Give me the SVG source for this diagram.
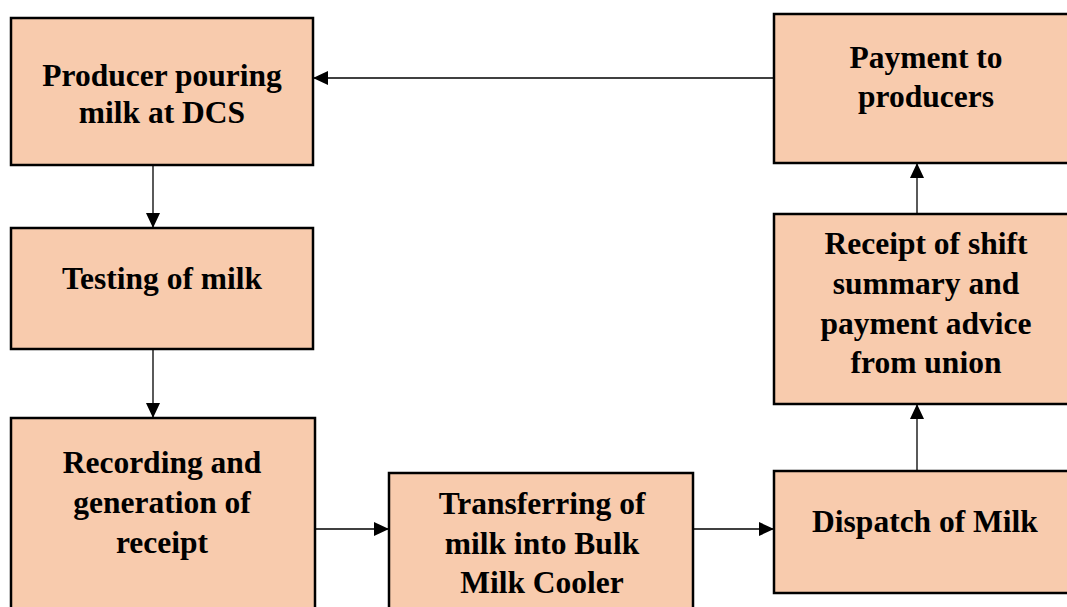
<svg xmlns="http://www.w3.org/2000/svg" width="1067" height="607" viewBox="0 0 1067 607">
<style>
.box{fill:#F8CBAD;stroke:#000;stroke-width:2.5}
.t{font-family:"Liberation Serif","Times New Roman",serif;font-weight:bold;font-size:31.5px;fill:#000;text-anchor:middle}
.c{stroke:#000;stroke-width:1.3;fill:none}
</style>
<defs>
<marker id="ah" viewBox="0 0 15 14" refX="15" refY="7" markerWidth="15" markerHeight="14" markerUnits="userSpaceOnUse" orient="auto">
<path d="M0,0 L15,7 L0,14 Z" fill="#000"/>
</marker>
</defs>
<rect width="1067" height="607" fill="#fff"/>
<g id="n1"><rect class="box" x="11" y="18" width="302" height="147"/>
<text class="t" x="162" y="86">Producer pouring</text><text class="t" x="162" y="123">milk at DCS</text></g>
<g id="n2"><rect class="box" x="11" y="228" width="302" height="121"/>
<text class="t" x="162" y="289">Testing of milk</text></g>
<g id="n3"><rect class="box" x="11" y="418" width="304" height="220"/>
<text class="t" x="162" y="473">Recording and</text><text class="t" x="162" y="513">generation of</text><text class="t" x="162" y="553">receipt</text></g>
<g id="n4"><rect class="box" x="389" y="473" width="304" height="170"/>
<text class="t" x="542" y="514">Transferring of</text><text class="t" x="542" y="554">milk into Bulk</text><text class="t" x="542" y="593">Milk Cooler</text></g>
<g id="n5"><rect class="box" x="774" y="471" width="304" height="122"/>
<text class="t" x="925" y="532">Dispatch of Milk</text></g>
<g id="n6"><rect class="box" x="774" y="214" width="304" height="190"/>
<text class="t" x="926" y="254">Receipt of shift</text><text class="t" x="926" y="294">summary and</text><text class="t" x="926" y="334">payment advice</text><text class="t" x="926" y="373">from union</text></g>
<g id="n7"><rect class="box" x="774" y="14" width="304" height="149"/>
<text class="t" x="926" y="68">Payment to</text><text class="t" x="926" y="107">producers</text></g>
<g id="connectors">
<line class="c" x1="153" y1="165" x2="153" y2="228" marker-end="url(#ah)"/>
<line class="c" x1="153" y1="349" x2="153" y2="418" marker-end="url(#ah)"/>
<line class="c" x1="315" y1="529" x2="389" y2="529" marker-end="url(#ah)"/>
<line class="c" x1="693" y1="529" x2="774" y2="529" marker-end="url(#ah)"/>
<line class="c" x1="917" y1="471" x2="917" y2="404" marker-end="url(#ah)"/>
<line class="c" x1="917" y1="214" x2="917" y2="163" marker-end="url(#ah)"/>
<line class="c" x1="774" y1="78" x2="313" y2="78" marker-end="url(#ah)"/>
</g>
</svg>
